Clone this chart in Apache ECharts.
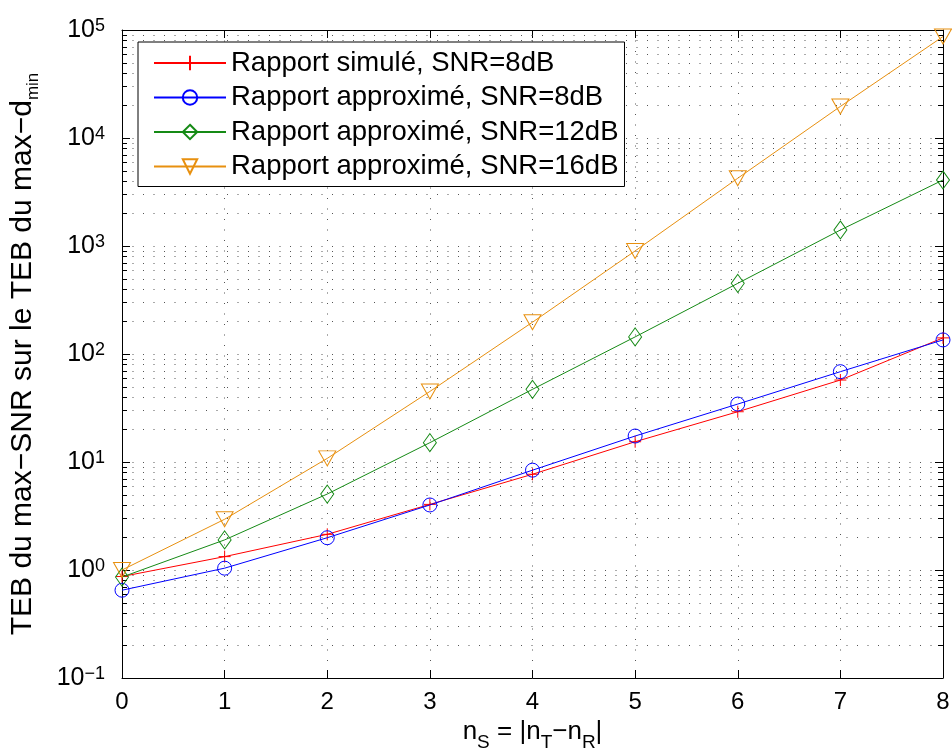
<!DOCTYPE html>
<html>
<head>
<meta charset="utf-8">
<script src="https://cdn.jsdelivr.net/npm/echarts@6/dist/echarts.min.js"></script>
<style>
html,body{margin:0;padding:0;background:#fff;}
#chart{width:952px;height:754px;}
</style>
</head>
<body>
<div id="chart"></div>
<script>
// ---- data ----
const nS = [0, 1, 2, 3, 4, 5, 6, 7, 8];
const simulated8 = [0.87, 1.33, 2.14, 4.05, 7.7, 15.4, 29.2, 57.4, 141];
const approx8    = [0.65, 1.04, 1.99, 4.0, 8.4, 17.4, 34.4, 68.6, 135];
const approx12   = [0.86, 1.9, 5.05, 15.1, 47.1, 144, 451, 1406, 4085];
const approx16   = [1.0, 2.95, 10.8, 45, 197, 900, 4240, 19600, 87000];
const seriesNames = [
  'Rapport simulé, SNR=8dB',
  'Rapport approximé, SNR=8dB',
  'Rapport approximé, SNR=12dB',
  'Rapport approximé, SNR=16dB'
];
// axis ticks
const xTicks = [0, 1, 2, 3, 4, 5, 6, 7, 8];
const yDecades = [0.1, 1, 10, 100, 1000, 10000];
const yMinorMultipliers = [2, 3, 4, 5, 6, 7, 8, 9];
const yExponentLabels = {'-1': '\u22121', '0': '0', '1': '1', '2': '2', '3': '3', '4': '4', '5': '5'};
const xTitle = '{m|n}{sub|S}{m| = |n}{sub|T}{m|\u2212n}{sub|R}{m||}';
const yTitle = '{m|TEB du max\u2212SNR sur le TEB du max\u2212d}{sub|min}';

const FONT = "'Liberation Sans', Arial, Helvetica, sans-serif";
const DOT = '#555';
const DASH = [1, 9.5];

const minorVals = [];
yDecades.forEach(d => yMinorMultipliers.forEach(m => minorVals.push(m * d)));

const chart = echarts.init(document.getElementById('chart'), null, {renderer: 'canvas'});

function pairs(ys) { return nS.map((x, i) => [x, ys[i]]); }

const option = {
  backgroundColor: '#fff',
  animation: false,
  grid: {left: 122, right: 9, top: 30, bottom: 76, containLabel: false, outerBoundsMode: 'none'},
  legend: {
    orient: 'vertical',
    left: 138, top: 42,
    data: seriesNames,
    backgroundColor: '#fff',
    borderColor: '#000',
    borderWidth: 1,
    borderRadius: 0,
    padding: [6, 6, 5, 15],
    itemWidth: 72,
    itemHeight: 18,
    itemGap: 4.5,
    selectedMode: false,
    textStyle: {fontFamily: FONT, fontSize: 27.5, color: '#000', lineHeight: 30}
  },
  xAxis: [{
    type: 'value', min: 0, max: 8, interval: 1,
    position: 'bottom',
    axisLine: {show: true, onZero: false, lineStyle: {color: '#000', width: 1}},
    axisTick: {show: true, inside: true, length: 8, lineStyle: {color: '#000'}},
    axisLabel: {fontFamily: FONT, fontSize: 24, color: '#000', margin: 12},
    splitLine: {show: true, lineStyle: {color: DOT, type: DASH, width: 1}},
    name: xTitle,
    nameLocation: 'middle',
    nameGap: 35,
    nameTextStyle: {
      fontFamily: FONT, fontSize: 26, color: '#000',
      rich: {
        m: {fontFamily: FONT, fontSize: 26, color: '#000', lineHeight: 26, padding: [0, 0, 14, 0]},
        sub: {fontFamily: FONT, fontSize: 19, color: '#000', verticalAlign: 'bottom', lineHeight: 19}
      }
    }
  }, {
    type: 'value', min: 0, max: 8, interval: 1,
    position: 'top',
    axisLine: {show: true, onZero: false, lineStyle: {color: '#000', width: 1}},
    axisTick: {show: true, inside: true, length: 8, lineStyle: {color: '#000'}},
    axisLabel: {show: false},
    splitLine: {show: false}
  }],
  yAxis: [{
    type: 'log', logBase: 10, min: 0.1, max: 100000,
    position: 'left',
    axisLine: {show: true, onZero: false, lineStyle: {color: '#000', width: 1}},
    axisTick: {show: true, inside: true, length: 8, lineStyle: {color: '#000'}},
    splitLine: {show: true, lineStyle: {color: DOT, type: DASH, width: 1}},
    axisLabel: {
      margin: 17,
      formatter: function (v) {
        const e = Math.round(Math.log10(v));
        return '{b|10}{s|' + yExponentLabels[String(e)] + '}';
      },
      rich: {
        b: {fontFamily: FONT, fontSize: 25, color: '#000', lineHeight: 25, padding: [7, 0, 7, 0]},
        s: {fontFamily: FONT, fontSize: 18, color: '#000', lineHeight: 18, verticalAlign: 'top'}
      }
    },
    name: yTitle,
    nameLocation: 'middle',
    nameGap: 78,
    nameRotate: 90,
    nameTextStyle: {
      fontFamily: FONT, fontSize: 30, color: '#000',
      rich: {
        m: {fontFamily: FONT, fontSize: 30, color: '#000', lineHeight: 30, padding: [0, 0, 8, 0]},
        sub: {fontFamily: FONT, fontSize: 17, color: '#000', verticalAlign: 'bottom', lineHeight: 17}
      }
    }
  }, {
    type: 'log', logBase: 10, min: 0.1, max: 100000,
    position: 'right',
    axisLine: {show: true, onZero: false, lineStyle: {color: '#000', width: 1}},
    axisTick: {show: true, inside: true, length: 8, lineStyle: {color: '#000'}},
    axisLabel: {show: false},
    splitLine: {show: false}
  }],
  series: [
    {
      type: 'custom',
      name: 'minorGrid',
      silent: true,
      xAxisIndex: 0, yAxisIndex: 0,
      z: 1,
      clip: false,
      encode: {x: 0, y: 1},
      data: minorVals.map(v => [0, v]),
      renderItem: function (params, api) {
        const v = api.value(1);
        const p0 = api.coord([xTicks[0], v]);
        const p1 = api.coord([xTicks[xTicks.length - 1], v]);
        const y = Math.round(p0[1]) + 0.5;
        return {
          type: 'group',
          children: [
            {type: 'line', shape: {x1: p0[0], y1: y, x2: p1[0], y2: y},
             style: {stroke: DOT, lineWidth: 1, lineDash: DASH}},
            {type: 'line', shape: {x1: p0[0], y1: y, x2: p0[0] + 5, y2: y},
             style: {stroke: '#000', lineWidth: 1}},
            {type: 'line', shape: {x1: p1[0] - 5, y1: y, x2: p1[0], y2: y},
             style: {stroke: '#000', lineWidth: 1}}
          ]
        };
      }
    },
    {
      type: 'line', name: seriesNames[0],
      data: pairs(simulated8),
      symbol: 'path://M5,0L5,10M0,5L10,5',
      symbolSize: 12,
      lineStyle: {color: '#ff0000', width: 1},
      itemStyle: {color: '#ff0000', borderColor: '#ff0000', borderWidth: 1},
      z: 3
    },
    {
      type: 'line', name: seriesNames[1],
      data: pairs(approx8),
      symbol: 'circle',
      symbolSize: 14,
      lineStyle: {color: '#0000ff', width: 1},
      itemStyle: {color: 'rgba(0,0,0,0)', borderColor: '#0000ff', borderWidth: 1},
      z: 4
    },
    {
      type: 'line', name: seriesNames[2],
      data: pairs(approx12),
      symbol: 'diamond',
      symbolSize: [13, 18],
      lineStyle: {color: '#158a15', width: 1},
      itemStyle: {color: 'rgba(0,0,0,0)', borderColor: '#158a15', borderWidth: 1},
      z: 5
    },
    {
      type: 'line', name: seriesNames[3],
      data: pairs(approx16),
      symbol: 'triangle',
      symbolRotate: 180,
      symbolSize: [17, 15],
      lineStyle: {color: '#e8900f', width: 1},
      itemStyle: {color: 'rgba(0,0,0,0)', borderColor: '#e8900f', borderWidth: 1},
      z: 6
    }
  ]
};
chart.setOption(option);
</script>
</body>
</html>
